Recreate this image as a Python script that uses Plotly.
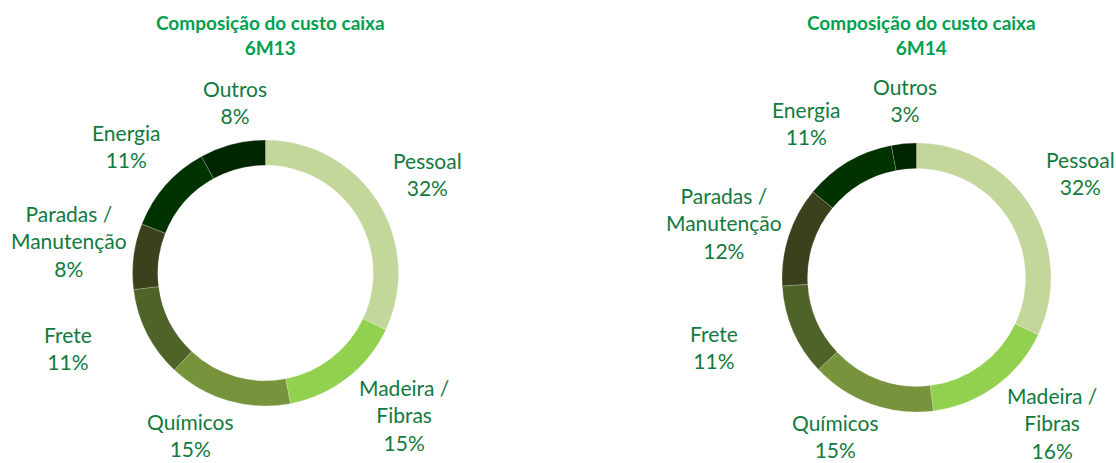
import math
import re
import plotly.graph_objects as go

# ---- data ----
categories = ["Pessoal", "Madeira / Fibras", "Químicos", "Frete",
              "Paradas / Manutenção", "Energia", "Outros"]
label_text = ["Pessoal", "Madeira /<br>Fibras", "Químicos", "Frete",
              "Paradas /<br>Manutenção", "Energia", "Outros"]
values_6m13 = [32, 15, 15, 11, 8, 11, 8]
values_6m14 = [32, 16, 15, 11, 12, 11, 3]
periods = ["6M13", "6M14"]
title_main = "Composição do custo caixa"

# ---- style / layout ----
colors = ["#c4d79b", "#92d050", "#77933c", "#4f6228",
          "#3a421d", "#003300", "#002600"]

W, H = 1116, 463
FONT = "Lato, 'Open Sans', sans-serif"
LABEL_COLOR = "#127a3e"
TITLE_COLOR = "#00a04f"
LABEL_SIZE = 21
LINE_H = 27

# manual label nudges (px, x right / y down), like hand-placed labels in the original
nudge_6m13 = [(-3, 6), (17, -14), (-26, -6), (-37, -7), (7, -6), (1, -3), (13, -2)]
nudge_6m14 = [(-2, 1), (19, -15), (-21, -8), (-36, -2), (6, 10), (-19, 0), (5, -3)]

# layout of each donut: centre (px) and radius (px)
pies = [
    dict(values=values_6m13, nudge=nudge_6m13, cx=265.5, cy=273.0, r=133.0, title_x=270),
    dict(values=values_6m14, nudge=nudge_6m14, cx=916.5, cy=277.5, r=134.5, title_x=921),
]

fig = go.Figure()
annotations = []

for p, period in zip(pies, periods):
    cx, cy, r = p["cx"], p["cy"], p["r"]
    half_w = r + 20
    fig.add_trace(go.Pie(
        labels=categories,
        values=p["values"],
        hole=0.81,
        sort=False,
        direction="clockwise",
        rotation=0,
        marker=dict(colors=colors, line=dict(color="rgba(255,255,255,0.35)", width=0.6)),
        textinfo="none",
        hoverinfo="label+percent",
        showlegend=False,
        domain=dict(
            x=[(cx - half_w) / W, (cx + half_w) / W],
            y=[(H - cy - r) / H, (H - cy + r) / H],
        ),
    ))

    total = sum(p["values"])
    cum = 0.0
    for txt, v, (nx, ny) in zip(label_text, p["values"], p["nudge"]):
        mid = (cum + v / 2) / total * 2 * math.pi
        cum += v
        dx, dy = math.sin(mid), -math.cos(mid)
        pct = round(v / total * 100)
        full = f"{txt}<br>{pct}%"
        lines = re.split(r"<br>", full)
        bw = max(len(l) for l in lines) * 0.53 * LABEL_SIZE
        bh = len(lines) * LINE_H - 4
        tx = (bw / 2) / abs(dx) if abs(dx) > 1e-6 else 1e9
        ty = (bh / 2) / abs(dy) if abs(dy) > 1e-6 else 1e9
        dist = r * 1.12 + min(tx, ty)
        px = cx + dx * dist + nx
        py = cy + dy * dist + ny
        annotations.append(dict(
            x=px / W, y=1 - py / H, xref="paper", yref="paper",
            text=full, showarrow=False,
            xanchor="center", yanchor="middle", align="center",
            font=dict(family=FONT, size=LABEL_SIZE, color=LABEL_COLOR),
        ))

    annotations.append(dict(
        x=p["title_x"] / W, y=1 - 35 / H, xref="paper", yref="paper",
        text=f"<b>{title_main}<br>{period}</b>", showarrow=False,
        xanchor="center", yanchor="middle", align="center",
        font=dict(family=FONT, size=19, color=TITLE_COLOR),
    ))

fig.update_layout(
    width=W, height=H,
    margin=dict(l=0, r=0, t=0, b=0),
    paper_bgcolor="white", plot_bgcolor="white",
    annotations=annotations,
)

fig.write_html("out.html", config={"displayModeBar": False},
               post_script="document.body.style.margin='0';")
